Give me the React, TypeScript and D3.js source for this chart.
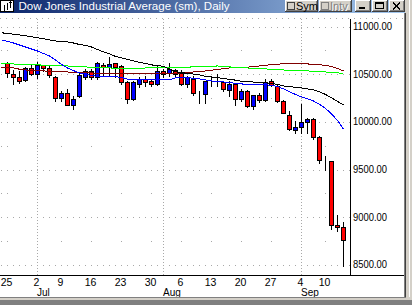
import React from "react";
import * as d3 from "d3";

// Trading days (first entry is the prior day used only by the averages)
const dates = [
  "2001-06-22", "2001-06-25", "2001-06-26", "2001-06-27", "2001-06-28", "2001-06-29",
  "2001-07-02", "2001-07-03", "2001-07-05", "2001-07-06", "2001-07-09", "2001-07-10",
  "2001-07-11", "2001-07-12", "2001-07-13", "2001-07-16", "2001-07-17", "2001-07-18",
  "2001-07-19", "2001-07-20", "2001-07-23", "2001-07-24", "2001-07-25", "2001-07-26",
  "2001-07-27", "2001-07-30", "2001-07-31", "2001-08-01", "2001-08-02", "2001-08-03",
  "2001-08-06", "2001-08-07", "2001-08-08", "2001-08-09", "2001-08-10", "2001-08-13",
  "2001-08-14", "2001-08-15", "2001-08-16", "2001-08-17", "2001-08-20", "2001-08-21",
  "2001-08-22", "2001-08-23", "2001-08-24", "2001-08-27", "2001-08-28", "2001-08-29",
  "2001-08-30", "2001-08-31", "2001-09-04", "2001-09-05", "2001-09-06", "2001-09-07",
  "2001-09-10", "2001-09-17", "2001-09-18", "2001-09-19",
];

const opens = [
  10613, 10501, 10474, 10438, 10564, 10505, 10592, 10564, 10474, 10249,
  10306, 10180, 10270, 10474, 10537, 10474, 10600, 10571, 10613, 10585,
  10417, 10236, 10396, 10453, 10424, 10396, 10529, 10508, 10543, 10515,
  10396, 10453, 10312, 10291, 10420, 10420, 10417, 10333, 10396, 10243,
  10320, 10166, 10278, 10229, 10424, 10375, 10222, 10075, 9914, 9950,
  9998, 10033, 9845, 9604, 9586, 8923, 8902,
];
const highs = [
  10629, 10543, 10532, 10571, 10600, 10627, 10600, 10585, 10480, 10323,
  10341, 10270, 10508, 10550, 10560, 10630, 10621, 10683, 10620, 10600,
  10424, 10424, 10466, 10480, 10445, 10600, 10560, 10613, 10560, 10540,
  10480, 10480, 10320, 10432, 10480, 10500, 10432, 10424, 10411, 10341,
  10333, 10285, 10299, 10445, 10445, 10389, 10229, 10117, 10005, 10183,
  10040, 10040, 9851, 9642, 9586, 9027, 8950,
];
const lows = [
  10472, 10400, 10411, 10432, 10487, 10463, 10537, 10474, 10218, 10215,
  10173, 10138, 10263, 10445, 10445, 10450, 10494, 10495, 10475, 10400,
  10194, 10225, 10369, 10380, 10375, 10390, 10470, 10480, 10480, 10389,
  10370, 10285, 10200, 10200, 10375, 10375, 10320, 10270, 10180, 10215,
  10152, 10131, 10208, 10222, 10375, 10208, 10089, 9914, 9887, 9880,
  9887, 9824, 9565, 9495, 8873, 8860, 8489,
];
const closes = [
  10508, 10474, 10428, 10564, 10501, 10592, 10564, 10487, 10254, 10299,
  10180, 10243, 10487, 10537, 10474, 10613, 10571, 10606, 10578, 10417,
  10236, 10417, 10453, 10417, 10396, 10529, 10501, 10557, 10501, 10396,
  10466, 10299, 10312, 10424, 10420, 10420, 10340, 10396, 10236, 10320,
  10166, 10278, 10229, 10417, 10383, 10215, 10096, 9921, 9950, 9998,
  10033, 9845, 9600, 9604, 8923, 8902, 8761,
];

// Moving averages (one value per entry of `dates`)
const maBlue = [
  10865, 10849, 10833, 10812, 10791, 10770, 10749, 10723, 10697, 10655,
  10608, 10571, 10543, 10519, 10503, 10493, 10482, 10480, 10480, 10480,
  10472, 10453, 10453, 10453, 10451, 10445, 10445, 10445, 10445, 10466,
  10469, 10469, 10463, 10456, 10445, 10435, 10430, 10424, 10417, 10411,
  10403, 10401, 10398, 10396, 10396, 10388, 10377, 10351, 10320, 10293,
  10267, 10246, 10225, 10189, 10147, 10089, 10021, 9929,
];
const maBlack = [
  10940, 10933, 10925, 10917, 10909, 10898, 10888, 10877, 10865, 10854,
  10849, 10844, 10833, 10817, 10807, 10791, 10765, 10739, 10718, 10692,
  10676, 10662, 10645, 10629, 10618, 10603, 10597, 10587, 10561, 10535,
  10522, 10514, 10507, 10498, 10482, 10477, 10470, 10459, 10453, 10443,
  10432, 10428, 10423, 10419, 10416, 10409, 10398, 10383, 10375, 10369,
  10362, 10351, 10341, 10320, 10293, 10257, 10220, 10183,
];
const maGreen = [
  10620, 10618, 10613, 10608, 10603, 10603, 10603, 10601, 10598, 10596,
  10594, 10592, 10587, 10585, 10582, 10578, 10574, 10571, 10571, 10569,
  10568, 10568, 10568, 10568, 10571, 10574, 10578, 10578, 10578, 10578,
  10578, 10580, 10582, 10585, 10587, 10589, 10592, 10589, 10582, 10576,
  10574, 10571, 10568, 10565, 10561, 10558, 10554, 10550, 10547, 10545,
  10542, 10540, 10537, 10533, 10529, 10524, 10519, 10516,
];
const maMaroon = [
  10578, 10576, 10571, 10558, 10550, 10543, 10543, 10540, 10537, 10532,
  10532, 10529, 10526, 10522, 10522, 10519, 10516, 10516, 10516, 10516,
  10516, 10516, 10516, 10516, 10516, 10514, 10511, 10511, 10511, 10514,
  10519, 10526, 10529, 10534, 10540, 10547, 10555, 10564, 10571, 10573,
  10576, 10580, 10584, 10592, 10599, 10606, 10611, 10615, 10616, 10616,
  10615, 10613, 10610, 10605, 10597, 10587, 10566, 10540,
];

const priceTicks = [8500, 9000, 9500, 10000, 10500, 11000];
const minorPriceTicks = [8750, 9250, 9750, 10250, 10750];
const dayTickDates = [
  "2001-06-25", "2001-07-02", "2001-07-09", "2001-07-16", "2001-07-23", "2001-07-30",
  "2001-08-06", "2001-08-13", "2001-08-20", "2001-08-27", "2001-09-04", "2001-09-10",
];
const monthDates = ["2001-07-02", "2001-08-01", "2001-09-04"];
const monthLabels = ["Jul", "Aug", "Sep"];
const titleText = "Dow Jones Industrial Average (sm), Daily";

const FONT = "'Liberation Sans', Arial, sans-serif";
const GRID = "#a8a8a8";
const FACE = "#d4d0c8";

function Btn({ x, w, children }: { x: number; w: number; children?: React.ReactNode }) {
  return (
    <g shapeRendering="crispEdges">
      <rect x={x} y={0} width={w} height={12} fill={FACE} />
      <line x1={x + 0.5} y1={0} x2={x + 0.5} y2={12} stroke="#fff" />
      <line x1={x} y1={0.5} x2={x + w} y2={0.5} stroke="#fff" />
      <line x1={x + w - 0.5} y1={0} x2={x + w - 0.5} y2={12} stroke="#404040" />
      <line x1={x} y1={11.5} x2={x + w} y2={11.5} stroke="#404040" />
      <line x1={x + w - 1.5} y1={1} x2={x + w - 1.5} y2={11} stroke="#808080" />
      <line x1={x + 1} y1={10.5} x2={x + w - 1} y2={10.5} stroke="#808080" />
      {children}
    </g>
  );
}

export default function App() {
  const x = d3.scalePoint<string>().domain(dates).range([1.5, 343.5]);
  const y = d3.scaleLinear().domain([8500, 10000]).range([265.4, 122.4]);
  const snap = (v: number) => Math.floor(v) + 0.5;
  const candleDates = dates.slice(1);

  const line = d3
    .line<number>()
    .x((_, i) => x(dates[i]) as number)
    .y((d) => y(d));

  const axisX = 350.5;
  const axisY = 275.5;
  const plotTop = 18.5;

  return (
    <svg
      width={412}
      height={305}
      viewBox="0 0 412 305"
      style={{ position: "absolute", left: 0, top: 0, background: "#fff" }}
    >
      <defs>
        <linearGradient id="tb" x1="0" x2="1" y1="0" y2="0">
          <stop offset="0" stopColor="#0a246a" />
          <stop offset="1" stopColor="#a6caf0" />
        </linearGradient>
      </defs>
      <rect x={0} y={0} width={412} height={305} fill="#fff" />

      {/* gridlines */}
      <g shapeRendering="crispEdges" stroke={GRID}>
        <line x1={0} x2={404} y1={plotTop} y2={plotTop} strokeDasharray="1 5" />
        {priceTicks.map((v) => (
          <line key={v} x1={1} x2={350} y1={snap(y(v))} y2={snap(y(v))} strokeDasharray="1 5" />
        ))}
        {monthDates.map((d) => (
          <line
            key={d}
            x1={snap(x(d) as number)}
            x2={snap(x(d) as number)}
            y1={plotTop}
            y2={275}
            strokeDasharray="1 2"
          />
        ))}
      </g>
      <g fill={GRID} shapeRendering="crispEdges">
        {minorPriceTicks.map((v) =>
          [dates[0], ...dayTickDates].map((d) => (
            <rect key={v + d} x={Math.floor(x(d) as number)} y={Math.floor(y(v))} width={1} height={1} />
          ))
        )}
      </g>

      {/* candles */}
      <g shapeRendering="crispEdges">
        {candleDates.map((d, i) => {
          const cx = snap(x(d) as number);
          const o = opens[i];
          const c = closes[i];
          const top = snap(y(Math.max(o, c)));
          const bot = snap(y(Math.min(o, c)));
          return (
            <g key={d}>
              <line x1={cx} x2={cx} y1={Math.floor(y(highs[i]))} y2={Math.floor(y(lows[i])) + 1} stroke="#000" />
              <rect
                x={cx - 2}
                y={top}
                width={4}
                height={Math.max(0, bot - top)}
                fill={c < o ? "#ff0000" : "#0000ff"}
                stroke="#000"
              />
            </g>
          );
        })}
      </g>

      {/* moving averages */}
      <g fill="none" strokeWidth={1} shapeRendering="crispEdges">
        <path d={line(maMaroon) || ""} stroke="#800000" />
        <path d={line(maGreen) || ""} stroke="#00ff00" />
        <path d={line(maBlack) || ""} stroke="#000000" />
        <path d={line(maBlue) || ""} stroke="#0000ff" />
      </g>

      {/* axes */}
      <g shapeRendering="crispEdges" stroke="#000">
        <line x1={axisX} x2={axisX} y1={plotTop} y2={axisY} />
        <line x1={0} x2={404} y1={axisY} y2={axisY} />
      </g>
      <g fontFamily={FONT} fontSize={11} fill="#000">
        {priceTicks.map((v) => {
          const s = d3.format(".2f")(v);
          return (
            <text key={v} x={353} y={y(v) + 3} textLength={s.length === 8 ? 39 : 34} lengthAdjust="spacingAndGlyphs">
              {s}
            </text>
          );
        })}
      </g>
      <g fontFamily={FONT} fontSize={10.5} fill="#000">
        {dayTickDates.map((d) => (
          <text key={d} x={(x(d) as number) - 1} y={285.5} textAnchor="middle">
            {String(+d.slice(8))}
          </text>
        ))}
      </g>
      <g fontFamily={FONT} fontSize={10} fill="#000">
        {monthDates.map((d, i) => (
          <text key={d} x={(x(d) as number) - 0.5} y={296}>
            {monthLabels[i]}
          </text>
        ))}
      </g>

      {/* window frame */}
      <g shapeRendering="crispEdges">
        <rect x={404} y={0} width={8} height={305} fill={FACE} />
        <line x1={404.5} x2={404.5} y1={13} y2={298} stroke="#808080" />
        <line x1={405.5} x2={405.5} y1={13} y2={297} stroke="#404040" />
        <line x1={409.5} x2={409.5} y1={0} y2={300} stroke="#fff" />
        <rect x={0} y={297} width={412} height={3} fill={FACE} />
        <line x1={0} x2={406} y1={297.5} y2={297.5} stroke="#808080" />
        <rect x={0} y={300} width={412} height={5} fill="#808080" />
      </g>

      {/* title bar */}
      <rect x={0} y={0} width={405} height={13} fill="url(#tb)" />
      <g shapeRendering="crispEdges">
        <rect x={0.5} y={0.5} width={13} height={11} fill="#fff" stroke="#000" />
        <line x1={4.5} x2={4.5} y1={5} y2={11} stroke="#000" />
        <line x1={7.5} x2={7.5} y1={3} y2={10} stroke="#000" />
        <line x1={10.5} x2={10.5} y1={1} y2={8} stroke="#000" />
        <line x1={9} x2={12} y1={2.5} y2={2.5} stroke="#000" />
      </g>
      <text x={18.5} y={10.3} fontFamily={FONT} fontSize={11} fill="#fff" textLength={211} lengthAdjust="spacingAndGlyphs">
        {titleText}
      </text>
      <Btn x={285} w={33}>
        <rect x={287.5} y={2.5} width={7} height={7} fill={FACE} stroke="#404040" shapeRendering="crispEdges" />
        <text x={296} y={10} fontFamily={FONT} fontSize={11} fill="#000">Sym</text>
      </Btn>
      <Btn x={319} w={33}>
        <rect x={321.5} y={2.5} width={7} height={7} fill={FACE} stroke="#808080" shapeRendering="crispEdges" />
        <text x={331} y={11} fontFamily={FONT} fontSize={11} fill="#fff">Intv</text>
        <text x={330} y={10} fontFamily={FONT} fontSize={11} fill="#808080">Intv</text>
      </Btn>
      <Btn x={355} w={16}>
        <rect x={359} y={7} width={6} height={2} fill="#000" />
      </Btn>
      <Btn x={372} w={16}>
        <rect x={375.5} y={2.5} width={8} height={6} fill="none" stroke="#000" shapeRendering="crispEdges" />
        <line x1={375} x2={384} y1={3.5} y2={3.5} stroke="#000" shapeRendering="crispEdges" />
      </Btn>
      <Btn x={389} w={16}>
        <path d="M393,2.5 L400,9.5 M400,2.5 L393,9.5" stroke="#000" strokeWidth={1.5} fill="none" />
      </Btn>
    </svg>
  );
}
